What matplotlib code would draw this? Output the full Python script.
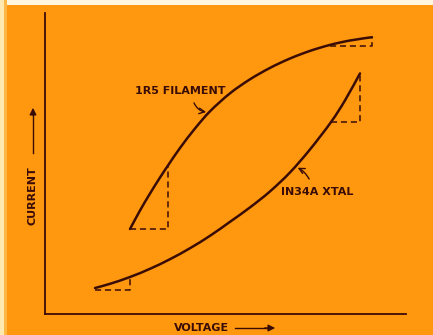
import matplotlib
matplotlib.use("Agg")
import numpy as np
import matplotlib.pyplot as plt
from matplotlib.patches import Rectangle, PathPatch, FancyArrowPatch
from matplotlib.path import Path

# Characteristic curves (arbitrary units: voltage 0-100, current 0-100)
filament_v = [23.55, 26.32, 29.09, 31.86, 34.07, 37.40, 41.55, 45.71, 51.25,
              56.79, 62.33, 67.87, 73.41, 78.95, 84.49, 90.58]
filament_i = [28.24, 34.39, 40.03, 45.35, 49.34, 55.15, 61.63, 67.34, 73.32,
              77.97, 81.76, 84.88, 87.41, 89.40, 90.86, 91.96]

xtal_v = [13.85, 18.01, 23.55, 29.09, 34.63, 40.17, 45.71, 51.25, 56.79,
          62.33, 67.87, 73.41, 79.22, 83.10, 87.26]
xtal_i = [8.64, 10.03, 12.29, 15.02, 18.21, 21.86, 25.98, 30.63, 35.42,
          40.73, 47.04, 54.68, 63.75, 70.96, 79.93]

# Slope triangles (dashed): corner voltage/current pairs
fil_low_tri_v = [23.55, 34.07, 34.07]
fil_low_tri_i = [28.24, 28.24, 49.34]
fil_high_tri_v = [78.95, 90.58, 90.58]
fil_high_tri_i = [88.9, 88.9, 91.96]
xtal_low_tri_v = [13.85, 23.55, 23.55]
xtal_low_tri_i = [8.0, 8.0, 12.29]
xtal_high_tri_v = [79.22, 87.26, 87.26]
xtal_high_tri_i = [63.75, 63.75, 79.93]

filament_label = "1R5 FILAMENT"
xtal_label = "IN34A XTAL"
x_label = "VOLTAGE"
y_label = "CURRENT"

INK = "#3a0c06"
ORANGE = "#FF980F"
W, H = 433, 335


def smooth_path(xs, ys):
    """Cubic Bezier path passing through every given point (Catmull-Rom tangents)."""
    p = np.column_stack([xs, ys]).astype(float)
    verts = [p[0]]
    codes = [Path.MOVETO]
    n = len(p)
    for k in range(n - 1):
        p0 = p[k - 1] if k > 0 else p[k]
        p1, p2 = p[k], p[k + 1]
        p3 = p[k + 2] if k + 2 < n else p[k + 1]
        c1 = p1 + (p2 - p0) / 6.0
        c2 = p2 - (p3 - p1) / 6.0
        verts += [c1, c2, p2]
        codes += [Path.CURVE4] * 3
    return Path(verts, codes)


fig = plt.figure(figsize=(W / 100, H / 100), dpi=100, facecolor=ORANGE)

# pale paper edges
fig.patches.append(Rectangle((0, 1 - 5 / H), 1, 5 / H, transform=fig.transFigure,
                             facecolor="#FFF6E0", edgecolor="none", zorder=0))
fig.patches.append(Rectangle((0, 0), 4 / W, 1, transform=fig.transFigure,
                             facecolor="#FFE9B0", edgecolor="none", zorder=0))
fig.patches.append(Rectangle((4 / W, 0), 3 / W, 1, transform=fig.transFigure,
                             facecolor="#FFB845", edgecolor="none", zorder=0))

left, right, top, bottom = 45, 406, 13, 314
ax = fig.add_axes([left / W, (H - bottom) / H, (right - left) / W, (bottom - top) / H])
ax.set_facecolor("none")
ax.set_xlim(0, 100)
ax.set_ylim(0, 100)
for s in ("top", "right"):
    ax.spines[s].set_visible(False)
for s in ("left", "bottom"):
    ax.spines[s].set_color(INK)
    ax.spines[s].set_linewidth(1.3)
ax.set_xticks([])
ax.set_yticks([])

for xs, ys in [(filament_v, filament_i), (xtal_v, xtal_i)]:
    ax.add_patch(PathPatch(smooth_path(xs, ys), facecolor="none", edgecolor=INK,
                           lw=1.8, capstyle="round", joinstyle="round"))

for tv, ti in [(fil_low_tri_v, fil_low_tri_i), (fil_high_tri_v, fil_high_tri_i),
               (xtal_low_tri_v, xtal_low_tri_i), (xtal_high_tri_v, xtal_high_tri_i)]:
    ax.plot(tv, ti, color=INK, lw=1.1, ls=(0, (4, 2.5)))

font = dict(family="DejaVu Sans", color=INK, fontweight="bold")

ax.text(25.0, 74.0, filament_label, fontsize=8, ha="left", va="center", **font)
ax.annotate("", xy=(45.4, 67.0), xytext=(41.0, 71.0),
            arrowprops=dict(arrowstyle="->", color=INK, lw=1.0,
                            connectionstyle="arc3,rad=0.35"))

ax.text(65.5, 40.5, xtal_label, fontsize=8, ha="left", va="center", **font)
ax.annotate("", xy=(69.3, 49.0), xytext=(73.5, 44.0),
            arrowprops=dict(arrowstyle="->", color=INK, lw=1.0,
                            connectionstyle="arc3,rad=0.2"))

fig.text(202 / W, 1 - 328 / H, x_label, fontsize=8, ha="center", va="center", **font)
fig.add_artist(plt.Line2D([235 / W, 270 / W], [1 - 328 / H] * 2, color=INK, lw=1.0))
fig.add_artist(FancyArrowPatch(
    (262 / W, 1 - 328 / H), (278 / W, 1 - 328 / H), transform=fig.transFigure,
    arrowstyle="-|>,head_length=4,head_width=2", color=INK, lw=1.0))

fig.text(33 / W, 1 - 196 / H, y_label, fontsize=8, rotation=90,
         ha="center", va="center", **font)
fig.add_artist(plt.Line2D([33 / W] * 2, [1 - 153 / H, 1 - 112 / H], color=INK, lw=1.0))
fig.add_artist(FancyArrowPatch(
    (33 / W, 1 - 118 / H), (33 / W, 1 - 105 / H), transform=fig.transFigure,
    arrowstyle="-|>,head_length=4,head_width=2", color=INK, lw=1.0))

fig.savefig("out.png", dpi=100, facecolor=ORANGE)
